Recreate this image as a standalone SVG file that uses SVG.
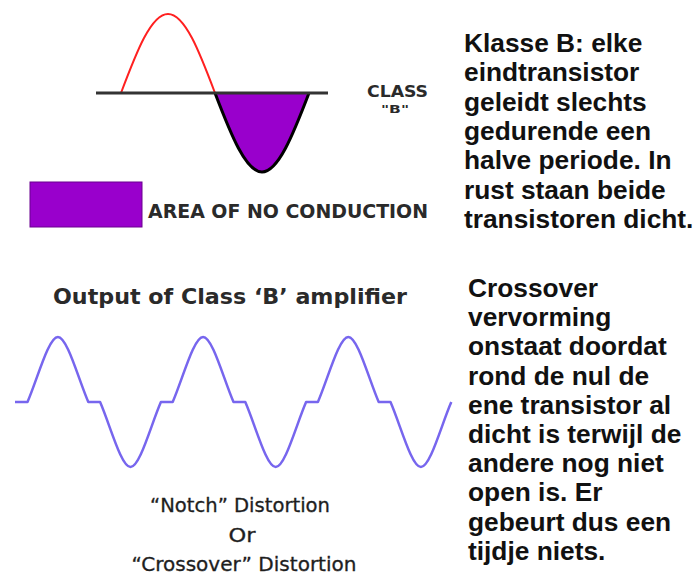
<svg xmlns="http://www.w3.org/2000/svg" width="698" height="576" viewBox="0 0 698 576">
<style>
.note{font-family:"Liberation Sans",Arial,sans-serif;font-weight:bold;font-size:26.3px;fill:#111}
.cap{font-family:"DejaVu Sans",sans-serif;font-size:19px;fill:#1e1e1e;stroke:#1e1e1e;stroke-width:0.3;text-anchor:middle}
.lbl{font-family:"DejaVu Sans Condensed","DejaVu Sans",sans-serif;font-stretch:condensed;font-weight:bold;fill:#2a2a2a}
</style>
<rect width="698" height="576" fill="#fff"/>
<g id="classB-wave">
<path d="M215,93 C231,135 246,172 262,172 C278,172 293,135 309,93 Z" fill="#9900cc"/>
<path d="M215,93 C231,135 246,172 262,172 C278,172 293,135 309,93" fill="none" stroke="#000" stroke-width="3"/>
<path d="M121,93 C136.3,52.5 151,14 168,14 C185,14 199.7,52.5 215,93" fill="none" stroke="#ff2020" stroke-width="2"/>
<line x1="96" y1="93" x2="328" y2="93" stroke="#333" stroke-width="3"/>
</g>
<g id="class-label">
<text class="lbl" x="367" y="97" font-size="16" textLength="61" lengthAdjust="spacingAndGlyphs">CLASS</text>
<text class="lbl" x="381" y="113" font-size="11" textLength="28" lengthAdjust="spacingAndGlyphs">"B"</text>
</g>
<g id="legend">
<rect x="30" y="182" width="112" height="45" fill="#9900cc" stroke="#6a0090" stroke-width="1"/>
<text class="lbl" x="148" y="218" font-size="19" textLength="280" lengthAdjust="spacingAndGlyphs">AREA OF NO CONDUCTION</text>
</g>
<g id="output-title">
<text x="230" y="304" text-anchor="middle" font-family="DejaVu Sans,sans-serif" font-weight="bold" font-size="21" fill="#2a2a2a" textLength="354" lengthAdjust="spacingAndGlyphs">Output of Class ‘B’ amplifier</text>
</g>
<g id="output-wave">
<path fill="none" stroke="#7766ee" stroke-width="2.5" stroke-linejoin="round" d="M15,402 H27.5
c10,-23 21,-65 30.4,-65 c9.4,0 20.4,42 30.4,65 h11.8
c10,23 21,65 30.4,65 c9.4,0 20.4,-42 30.4,-65 h11.8
c10,-23 21,-65 30.4,-65 c9.4,0 20.4,42 30.4,65 h11.8
c10,23 21,65 30.4,65 c9.4,0 20.4,-42 30.4,-65 h11.8
c10,-23 21,-65 30.4,-65 c9.4,0 20.4,42 30.4,65 h11.8
c10,23 21,65 30.4,65 c9.4,0 20.4,-42 30.4,-65"/>
</g>
<g id="distortion-caption">
<text class="cap" x="240" y="512" textLength="180" lengthAdjust="spacingAndGlyphs">“Notch” Distortion</text>
<text class="cap" x="242" y="542" textLength="27" lengthAdjust="spacingAndGlyphs">Or</text>
<text class="cap" x="244" y="571" textLength="225" lengthAdjust="spacingAndGlyphs">“Crossover” Distortion</text>
</g>
<g id="note-classB">
<text class="note" x="464" y="52">Klasse B: elke<tspan x="464" dy="29.33">eindtransistor</tspan><tspan x="464" dy="29.33">geleidt slechts</tspan><tspan x="464" dy="29.33">gedurende een</tspan><tspan x="464" dy="29.33">halve periode. In</tspan><tspan x="464" dy="29.33">rust staan beide</tspan><tspan x="464" dy="29.33">transistoren dicht.</tspan></text>
</g>
<g id="note-crossover">
<text class="note" x="468" y="297">Crossover<tspan x="468" dy="29.2">vervorming</tspan><tspan x="468" dy="29.2">onstaat doordat</tspan><tspan x="468" dy="29.2">rond de nul de</tspan><tspan x="468" dy="29.2">ene transistor al</tspan><tspan x="468" dy="29.2">dicht is terwijl de</tspan><tspan x="468" dy="29.2">andere nog niet</tspan><tspan x="468" dy="29.2">open is. Er</tspan><tspan x="468" dy="29.2">gebeurt dus een</tspan><tspan x="468" dy="29.2">tijdje niets.</tspan></text>
</g>
</svg>
